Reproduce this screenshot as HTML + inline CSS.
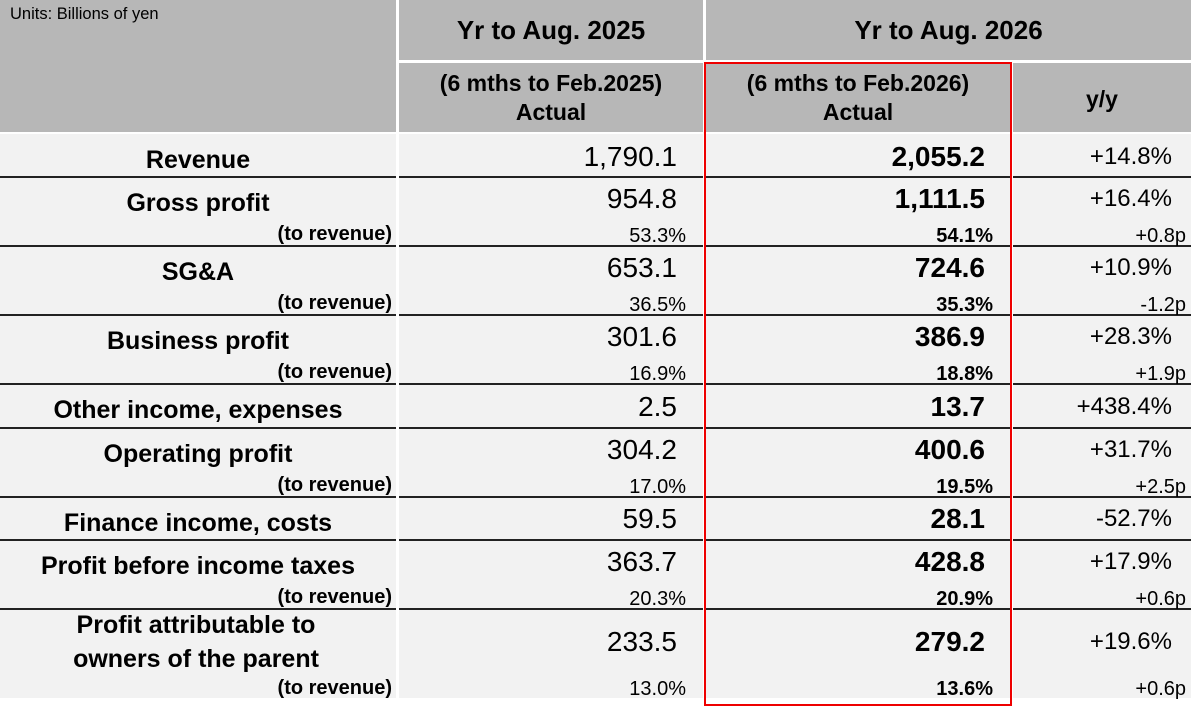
<!DOCTYPE html>
<html><head><meta charset="utf-8"><style>
body{margin:0;width:1191px;height:698px;overflow:hidden;background:#fff;font-family:"Liberation Sans",Arial,sans-serif;color:#000;position:relative}
div{position:absolute;white-space:nowrap}
.h{background:#b7b7b7}
.b{background:#f2f2f2}
.ln{background:#222;height:2px;left:0;width:1191px}
.t{height:30px;line-height:30px}
.lab{left:0;width:396px;text-align:center;font-weight:bold;font-size:25px}
.sub{right:799px;font-weight:bold;font-size:20px;text-align:right}
.v1{right:514px;font-size:28px;text-align:right}
.p1{right:505px;font-size:20px;text-align:right}
.v2{right:206px;font-size:28px;font-weight:bold;text-align:right}
.p2{right:198px;font-size:20px;font-weight:bold;text-align:right}
.v3{right:19px;font-size:24px;text-align:right}
.p3{right:5px;font-size:20px;text-align:right}
.hd{font-weight:bold;text-align:center}
</style></head><body>
<div class="h" style="left:0;top:0;width:396px;height:132px"></div>
<div class="h" style="left:399px;top:0;width:304px;height:60px"></div>
<div class="h" style="left:706px;top:0;width:485px;height:60px"></div>
<div class="h" style="left:399px;top:63px;width:304px;height:69px"></div>
<div class="h" style="left:706px;top:63px;width:304px;height:69px"></div>
<div class="h" style="left:1013px;top:63px;width:178px;height:69px"></div>
<div class="b" style="left:0;top:134px;width:396px;height:564px"></div>
<div class="b" style="left:399px;top:134px;width:304px;height:564px"></div>
<div class="b" style="left:706px;top:134px;width:304px;height:564px"></div>
<div class="b" style="left:1013px;top:134px;width:178px;height:564px"></div>
<div class="ln" style="top:176px"></div>
<div class="ln" style="top:245px"></div>
<div class="ln" style="top:314px"></div>
<div class="ln" style="top:383px"></div>
<div class="ln" style="top:427px"></div>
<div class="ln" style="top:496px"></div>
<div class="ln" style="top:539px"></div>
<div class="ln" style="top:608px"></div>
<div style="left:396px;top:0;width:3px;height:698px;background:#fff"></div>
<div style="left:703px;top:0;width:3px;height:698px;background:#fff"></div>
<div style="left:1010px;top:60px;width:3px;height:638px;background:#fff"></div>

<div style="left:10px;top:5px;font-size:16.5px">Units: Billions of yen</div>
<div class="hd" style="left:399px;width:304px;top:15px;font-size:26px">Yr to Aug. 2025</div>
<div class="hd" style="left:706px;width:485px;top:15px;font-size:26px">Yr to Aug. 2026</div>
<div class="hd" style="left:399px;width:304px;top:69px;font-size:23px;line-height:29px">(6 mths to Feb.2025)<br>Actual</div>
<div class="hd" style="left:706px;width:304px;top:69px;font-size:23px;line-height:29px">(6 mths to Feb.2026)<br>Actual</div>
<div class="hd" style="left:1013px;width:178px;top:86px;font-size:23px">y/y</div>

<div style="left:704px;top:62px;width:304px;height:640px;border:2px solid #ee0000"></div>

<div class="t lab" style="top:145px">Revenue</div>
<div class="t v1" style="top:142px">1,790.1</div>
<div class="t v2" style="top:142px">2,055.2</div>
<div class="t v3" style="top:142px">+14.8%</div>

<div class="t lab" style="top:188px">Gross profit</div>
<div class="t sub" style="top:219px">(to revenue)</div>
<div class="t v1" style="top:184px">954.8</div><div class="t p1" style="top:221px">53.3%</div>
<div class="t v2" style="top:184px">1,111.5</div><div class="t p2" style="top:221px">54.1%</div>
<div class="t v3" style="top:184px">+16.4%</div><div class="t p3" style="top:221px">+0.8p</div>

<div class="t lab" style="top:257px">SG&amp;A</div>
<div class="t sub" style="top:288px">(to revenue)</div>
<div class="t v1" style="top:253px">653.1</div><div class="t p1" style="top:290px">36.5%</div>
<div class="t v2" style="top:253px">724.6</div><div class="t p2" style="top:290px">35.3%</div>
<div class="t v3" style="top:253px">+10.9%</div><div class="t p3" style="top:290px">-1.2p</div>

<div class="t lab" style="top:326px">Business profit</div>
<div class="t sub" style="top:357px">(to revenue)</div>
<div class="t v1" style="top:322px">301.6</div><div class="t p1" style="top:359px">16.9%</div>
<div class="t v2" style="top:322px">386.9</div><div class="t p2" style="top:359px">18.8%</div>
<div class="t v3" style="top:322px">+28.3%</div><div class="t p3" style="top:359px">+1.9p</div>

<div class="t lab" style="top:395px">Other income, expenses</div>
<div class="t v1" style="top:392px">2.5</div>
<div class="t v2" style="top:392px">13.7</div>
<div class="t v3" style="top:392px">+438.4%</div>

<div class="t lab" style="top:439px">Operating profit</div>
<div class="t sub" style="top:470px">(to revenue)</div>
<div class="t v1" style="top:435px">304.2</div><div class="t p1" style="top:472px">17.0%</div>
<div class="t v2" style="top:435px">400.6</div><div class="t p2" style="top:472px">19.5%</div>
<div class="t v3" style="top:435px">+31.7%</div><div class="t p3" style="top:472px">+2.5p</div>

<div class="t lab" style="top:508px">Finance income, costs</div>
<div class="t v1" style="top:504px">59.5</div>
<div class="t v2" style="top:504px">28.1</div>
<div class="t v3" style="top:504px">-52.7%</div>

<div class="t lab" style="top:551px">Profit before income taxes</div>
<div class="t sub" style="top:582px">(to revenue)</div>
<div class="t v1" style="top:547px">363.7</div><div class="t p1" style="top:584px">20.3%</div>
<div class="t v2" style="top:547px">428.8</div><div class="t p2" style="top:584px">20.9%</div>
<div class="t v3" style="top:547px">+17.9%</div><div class="t p3" style="top:584px">+0.6p</div>

<div class="t lab" style="top:610px;width:392px">Profit attributable to</div>
<div class="t lab" style="top:644px;width:392px">owners of the parent</div>
<div class="t sub" style="top:673px">(to revenue)</div>
<div class="t v1" style="top:627px">233.5</div><div class="t p1" style="top:674px">13.0%</div>
<div class="t v2" style="top:627px">279.2</div><div class="t p2" style="top:674px">13.6%</div>
<div class="t v3" style="top:627px">+19.6%</div><div class="t p3" style="top:674px">+0.6p</div>
</body></html>
